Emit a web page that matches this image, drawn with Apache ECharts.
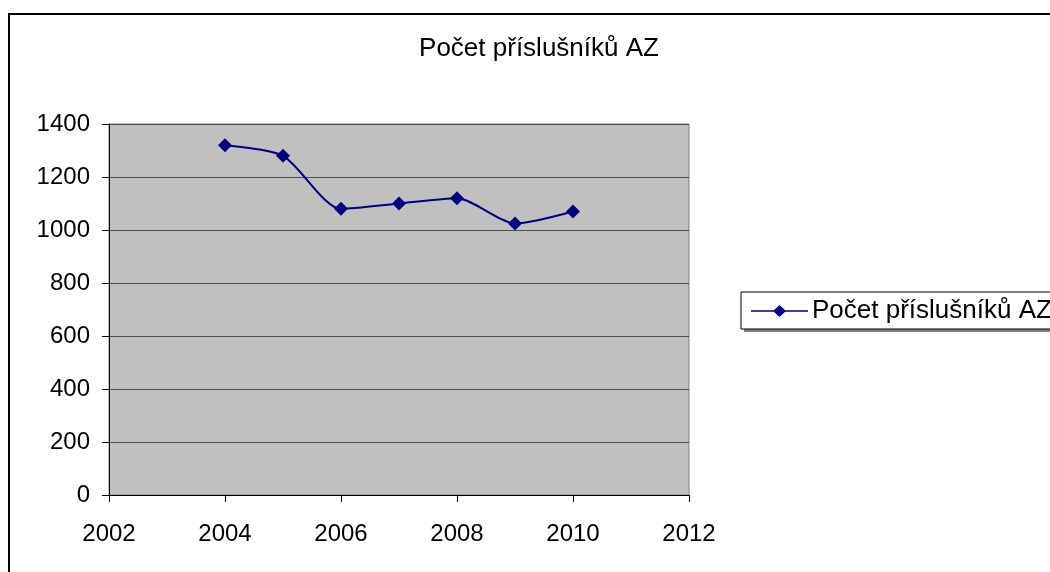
<!DOCTYPE html>
<html>
<head>
<meta charset="utf-8">
<script src="https://cdn.jsdelivr.net/npm/echarts@6/dist/echarts.min.js"></script>
<style>
html, body { margin: 0; padding: 0; background: #fff; }
#chart { width: 1050px; height: 572px; }
</style>
</head>
<body>
<div id="chart"></div>
<script>
let years = [2004, 2005, 2006, 2007, 2008, 2009, 2010]
let counts = [1320, 1280, 1080, 1100, 1120, 1025, 1070]
let seriesName = 'Počet příslušníků AZ'
let titleText = 'Počet příslušníků AZ'

let mychart = echarts.init(document.getElementById('chart'))
let font = '"Liberation Sans", Arial, sans-serif'

let options = {
    animation: false,
    textStyle: { fontFamily: font },
    title: {
        text: titleText,
        left: 534,
        top: 31,
        textAlign: 'center',
        textStyle: { fontFamily: font, fontSize: 26, fontWeight: 'normal', color: '#000' }
    },
    graphic: [
        {
            type: 'rect',
            shape: { x: 9, y: 14, width: 1100, height: 620 },
            style: { fill: 'none', stroke: '#000', lineWidth: 2 },
            z: -1
        },
        // legend shadow
        {
            type: 'rect',
            shape: { x: 744, y: 295, width: 400, height: 37 },
            style: { fill: '#808080' },
            z: 0
        },
        {
            type: 'rect',
            shape: { x: 741, y: 292, width: 400, height: 37 },
            style: { fill: '#fff', stroke: '#000', lineWidth: 1 },
            z: 1
        }
    ],
    legend: {
        left: 751,
        top: 298,
        itemWidth: 57,
        itemHeight: 12,
        itemGap: 0,
        padding: 0,
        z: 5,
        textStyle: { fontFamily: font, fontSize: 26, color: '#000', padding: [0, 0, 0, -1] },
        data: [{ name: seriesName, icon: 'path://M0,5.25 L23,5.25 L23,6.75 L0,6.75 Z M34,5.25 L57,5.25 L57,6.75 L34,6.75 Z M28.5,0 L35,6 L28.5,12 L22,6 Z' }]
    },
    grid: {
        left: 109,
        top: 124,
        width: 580,
        height: 371,
        show: true,
        backgroundColor: '#c0c0c0',
        borderColor: '#808080',
        borderWidth: 1
    },
    xAxis: {
        type: 'value',
        min: 2002,
        max: 2012,
        interval: 2,
        axisLine: { show: true, onZero: false, lineStyle: { color: '#000' } },
        axisTick: { show: true, inside: false, length: 7, lineStyle: { color: '#000' } },
        axisLabel: { fontSize: 24, color: '#000', margin: 27, fontFamily: font, formatter: v => String(v) },
        splitLine: { show: false }
    },
    yAxis: {
        type: 'value',
        min: 0,
        max: 1400,
        interval: 200,
        axisLine: { show: true, lineStyle: { color: '#000' } },
        axisTick: { show: true, inside: false, length: 7, lineStyle: { color: '#000' } },
        axisLabel: { fontSize: 24, color: '#000', margin: 19, fontFamily: font, formatter: v => String(v) },
        splitLine: { show: true, lineStyle: { color: '#4d4d4d', width: 1 } }
    },
    series: [
        {
            name: seriesName,
            type: 'line',
            data: years.map((y, i) => [y, counts[i]]),
            smooth: 0.25,
            symbol: 'diamond',
            symbolSize: 14,
            itemStyle: { color: '#000080' },
            lineStyle: { color: '#000080', width: 2 }
        }
    ]
}
mychart.setOption(options)
</script>
</body>
</html>
